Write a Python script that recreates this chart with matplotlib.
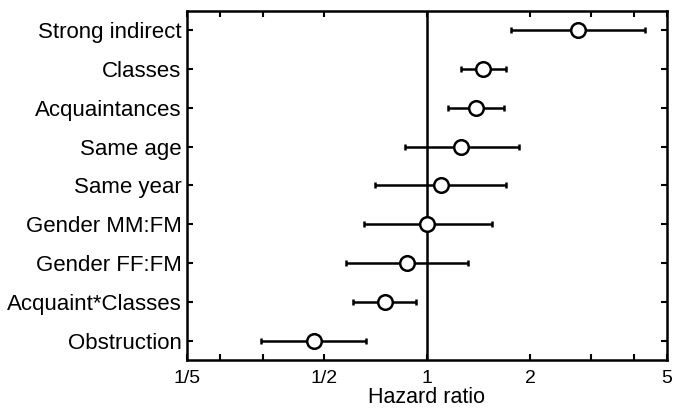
import matplotlib
matplotlib.use("Agg")
import matplotlib.pyplot as plt
from matplotlib.ticker import FixedLocator, NullLocator

plt.rcParams['font.family'] = ['Liberation Sans', 'DejaVu Sans']

categories = ["Strong indirect", "Classes", "Acquaintances", "Same age", "Same year",
              "Gender MM:FM", "Gender FF:FM", "Acquaint*Classes", "Obstruction"]
hr = [2.76, 1.46, 1.39, 1.26, 1.10, 1.00, 0.875, 0.755, 0.469]
lower = [1.76, 1.26, 1.15, 0.86, 0.705, 0.655, 0.58, 0.61, 0.328]
upper = [4.32, 1.70, 1.68, 1.85, 1.70, 1.55, 1.32, 0.93, 0.664]
major_ticks = [0.2, 0.5, 1, 2, 5]
major_labels = ["1/5", "1/2", "1", "2", "5"]
minor_ticks = [0.25, 1/3, 3, 4]

fig = plt.figure(figsize=(6.76, 4.09), dpi=100)
ax = fig.add_axes([187/676, 1 - 360/409, 480/676, 349/409])

ypos = list(range(1, len(categories) + 1))
xerr = [[h - l for h, l in zip(hr, lower)], [u - h for h, u in zip(hr, upper)]]

ax.axvline(1, color='black', lw=1.8, zorder=1)
ax.errorbar(hr, ypos, xerr=xerr, fmt='o', color='black', ecolor='black',
            elinewidth=1.8, capsize=2.5, capthick=1.8, markersize=10.5,
            markerfacecolor='white', markeredgecolor='black', markeredgewidth=1.8,
            zorder=3)

ax.set_xscale('log')
ax.set_xlim(0.2, 5)
ax.set_ylim(9.5, 0.5)
ax.xaxis.set_major_locator(FixedLocator(major_ticks))
ax.set_xticklabels(major_labels)
ax.xaxis.set_minor_locator(FixedLocator(minor_ticks))
ax.xaxis.set_minor_formatter(matplotlib.ticker.NullFormatter())
ax.set_yticks(ypos)
ax.set_yticklabels(categories)
ax.yaxis.set_minor_locator(NullLocator())

ax.tick_params(axis='both', which='both', direction='in', top=True, right=True,
               length=4, width=1.5)
ax.tick_params(axis='x', labelsize=14, pad=7)
ax.tick_params(axis='y', labelsize=16, pad=4)
for s in ax.spines.values():
    s.set_linewidth(1.8)

ax.set_xlabel("Hazard ratio", fontsize=15.5, labelpad=0)

fig.savefig("out.png", dpi=100)
